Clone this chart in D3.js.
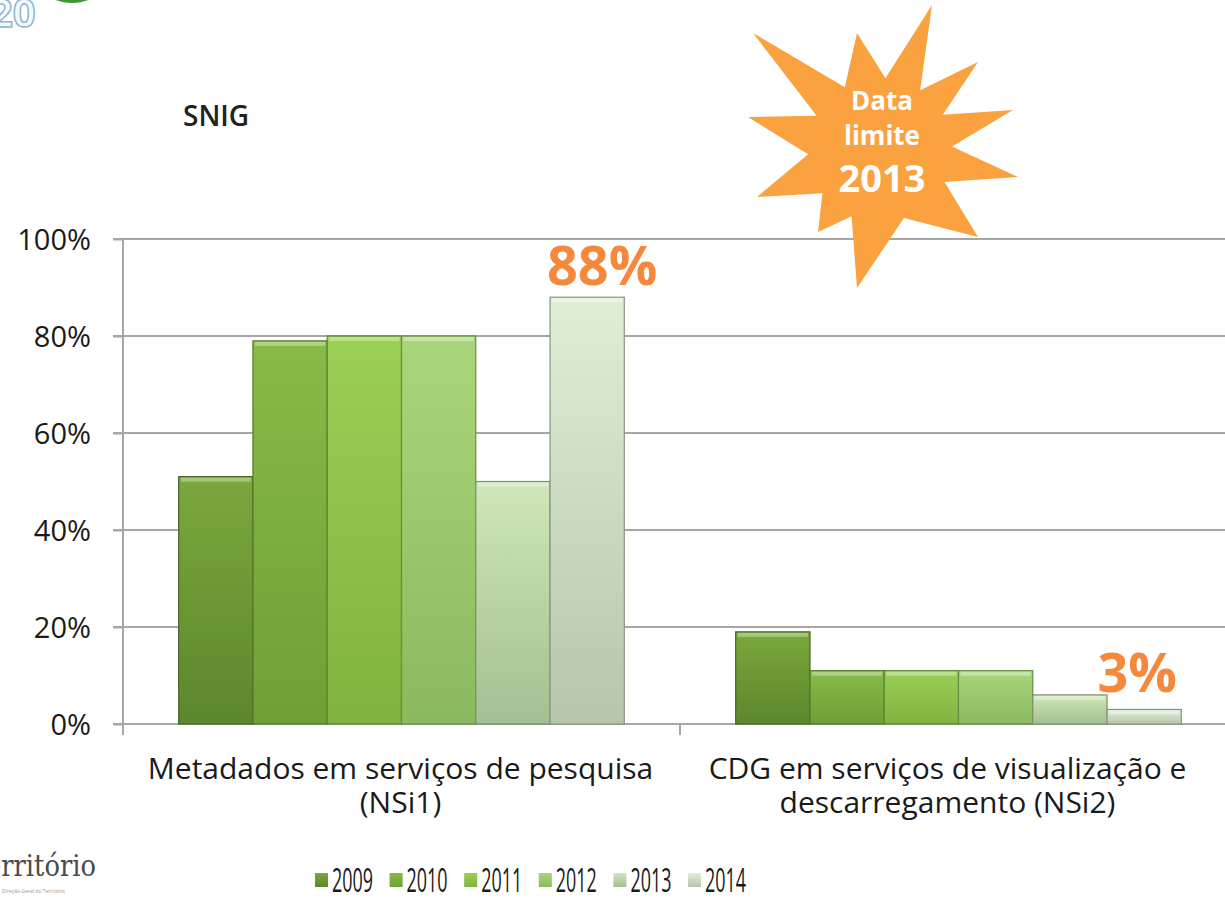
<!DOCTYPE html>
<html>
<head>
<meta charset="utf-8">
<script src="https://cdn.jsdelivr.net/npm/d3@7"></script>
<style>
  body { margin: 0; background: #fff; }
  svg { display: block; font-family: "Open Sans", "Noto Sans", sans-serif; }
</style>
</head>
<body>
<script>
// data
var categories = ["Metadados em serviços de pesquisa|(NSi1)", "CDG em serviços de visualização e|descarregamento (NSi2)"];
var years = ["2009", "2010", "2011", "2012", "2013", "2014"];
var nsi1 = [0.51, 0.79, 0.80, 0.80, 0.50, 0.88];
var nsi2 = [0.19, 0.11, 0.11, 0.11, 0.06, 0.03];
var yTicks = [0, 0.2, 0.4, 0.6, 0.8, 1];
var callouts = ["88%", "3%"];
var colorsTop = ["#7aa83c", "#88ba48", "#9ccf55", "#a9d67b", "#cfe7b8", "#dfeed6"];
var colorsBottom = ["#5c872c", "#6f9f36", "#80b23f", "#8bb95e", "#a4bf93", "#b6c6ad"];

var width = 1225, height = 900;

var svg = d3.select("body").append("svg").attr("width", width).attr("height", height);
var defs = svg.append("defs");

years.forEach(function(yr, i){
  var g = defs.append("linearGradient").attr("id", "grad" + i)
      .attr("x1", 0).attr("y1", 0).attr("x2", 0).attr("y2", 1);
  g.append("stop").attr("offset", "0%").attr("stop-color", colorsTop[i]);
  g.append("stop").attr("offset", "100%").attr("stop-color", colorsBottom[i]);
});

var x0 = d3.scaleBand().domain(categories).range([123, 1237]);
var x1 = d3.scaleBand().domain(years).range([0, x0.bandwidth()]).paddingInner(0).paddingOuter(0.75);
var y = d3.scaleLinear().domain([0, 1]).range([724, 239]);

// gridlines
svg.append("g").selectAll("line")
  .data(yTicks)
  .enter().append("line")
    .attr("x1", 113).attr("x2", width)
    .attr("y1", function(d){ return y(d); })
    .attr("y2", function(d){ return y(d); })
    .attr("stroke", "#a6a6a6").attr("stroke-width", 2);

// y axis
var yAxis = d3.axisLeft(y).tickValues(yTicks).tickFormat(d3.format(".0%")).tickSize(10).tickPadding(22);
var yg = svg.append("g").attr("transform", "translate(123,0)").call(yAxis);
yg.select(".domain").remove();
yg.selectAll(".tick line").attr("stroke", "#a6a6a6").attr("stroke-width", 2);
yg.selectAll(".tick text").attr("font-size", 29).attr("fill", "#1a1a1a")
  .attr("font-family", "'Open Sans', sans-serif").attr("dy", "0.36em");
svg.append("line").attr("x1", 123).attr("x2", 123).attr("y1", y(1)).attr("y2", 735)
  .attr("stroke", "#a6a6a6").attr("stroke-width", 2);

// category separators
svg.append("g").selectAll("line")
  .data(categories)
  .enter().append("line")
    .attr("x1", function(d){ return x0(d); }).attr("x2", function(d){ return x0(d); })
    .attr("y1", y(0)).attr("y2", 735)
    .attr("stroke", "#a6a6a6").attr("stroke-width", 2);

// bars
var series = [nsi1, nsi2];
categories.forEach(function(cat, ci){
  var grp = svg.append("g").attr("transform", "translate(" + x0(cat) + ",0)");
  var bars = grp.selectAll("g.bar")
    .data(series[ci])
    .enter().append("g").attr("class", "bar");
  bars.append("rect")
    .attr("x", function(d, i){ return x1(years[i]); })
    .attr("y", function(d){ return y(d); })
    .attr("width", x1.bandwidth())
    .attr("height", function(d){ return y(0) - y(d); })
    .attr("fill", function(d, i){ return "url(#grad" + i + ")"; })
    .attr("stroke", function(d, i){ return d3.color(colorsBottom[i]).darker(0.8); })
    .attr("stroke-width", 1.2);
  // bevel highlight on top
  bars.append("rect")
    .attr("x", function(d, i){ return x1(years[i]) + 2; })
    .attr("y", function(d){ return y(d) + 1; })
    .attr("width", x1.bandwidth() - 4)
    .attr("height", 4)
    .attr("fill", "#fff").attr("opacity", 0.35);
  // orange callout above last bar
  grp.append("text")
    .attr("x", x1(years[years.length - 1]) + x1.bandwidth() / 2 + (ci === 0 ? 15 : -7))
    .attr("y", ci === 0 ? 285 : 692)
    .attr("text-anchor", "middle")
    .attr("font-size", 54).attr("font-weight", 700)
    .attr("fill", "#f6883c")
    .text(callouts[ci]);
});

// category labels
categories.forEach(function(cat){
  var lines = cat.split("|");
  lines.forEach(function(line, li){
    svg.append("text")
      .attr("x", x0(cat) + x0.bandwidth() / 2 - 1 + (x0(cat) > 600 ? -10 : 0))
      .attr("y", 779 + li * 34)
      .attr("text-anchor", "middle")
      .attr("font-size", 30)
      .attr("fill", "#1a1a1a")
      .text(line);
  });
});

// SNIG label
svg.append("text").attr("x", 183).attr("y", 126).attr("font-size", 28).attr("font-weight", 600)
  .attr("fill", "#222").text("SNIG");

// legend
var legend = svg.append("g").attr("transform", "translate(315,869)");
var item = legend.selectAll("g").data(years).enter().append("g")
  .attr("transform", function(d, i){ return "translate(" + (i * 74.6) + ",0)"; });
item.append("rect").attr("x", 0).attr("y", 4).attr("width", 13).attr("height", 14)
  .attr("fill", function(d, i){ return "url(#grad" + i + ")"; });
item.append("text").attr("x", 17).attr("y", 23)
  .attr("font-size", 32).attr("fill", "#1a1a1a")
  .attr("textLength", 41).attr("lengthAdjust", "spacingAndGlyphs")
  .text(function(d){ return d; });

// starburst "Data limite 2013"
var cx = 880, cy = 150;
var tips = [[932,5],[978,62],[1013,110],[1018,177],[978,237],[857,288],[818,232],[757,197],[748,117],[753,33],[857,33]];
var starPts = [];
tips.forEach(function(t, i){
  var n = tips[(i + 1) % tips.length];
  starPts.push(t);
  var a1 = Math.atan2(t[1] - cy, t[0] - cx), a2 = Math.atan2(n[1] - cy, n[0] - cx);
  var da = a2 - a1; if (da < 0) da += 2 * Math.PI;
  var am = a1 + da / 2;
  starPts.push([cx + 72 * Math.cos(am), cy + 72 * Math.sin(am)]);
});
svg.append("path").attr("d", d3.line()(starPts) + "Z").attr("fill", "#f9a23f");
svg.append("text").attr("x", 882).attr("y", 110).attr("text-anchor", "middle")
  .attr("font-size", 26).attr("font-weight", 700).attr("fill", "#fff").text("Data");
svg.append("text").attr("x", 882).attr("y", 145).attr("text-anchor", "middle")
  .attr("font-size", 26).attr("font-weight", 700).attr("fill", "#fff").text("limite");
svg.append("text").attr("x", 882).attr("y", 192).attr("text-anchor", "middle")
  .attr("font-size", 38).attr("font-weight", 700).attr("fill", "#fff").text("2013");

// slide decorations (logos cut off at the edges)
svg.append("text").attr("x", -10).attr("y", 27).attr("font-size", 40).attr("font-weight", 700)
  .attr("fill", "#f2f8fc").attr("stroke", "#8fb5d3").attr("stroke-width", 1.5).text("20");
svg.append("ellipse").attr("cx", 72).attr("cy", -6).attr("rx", 22).attr("ry", 9).attr("fill", "#3c9b2e");
svg.append("text").attr("x", -14).attr("y", 876).attr("font-size", 30)
  .attr("font-family", "'DejaVu Serif', serif").attr("fill", "#4a4a4a")
  .attr("textLength", 110).attr("lengthAdjust", "spacingAndGlyphs").text("erritório");
svg.append("text").attr("x", 2).attr("y", 893).attr("font-size", 5).attr("fill", "#999")
  .text("Direção-Geral do Território");
</script>
</body>
</html>
